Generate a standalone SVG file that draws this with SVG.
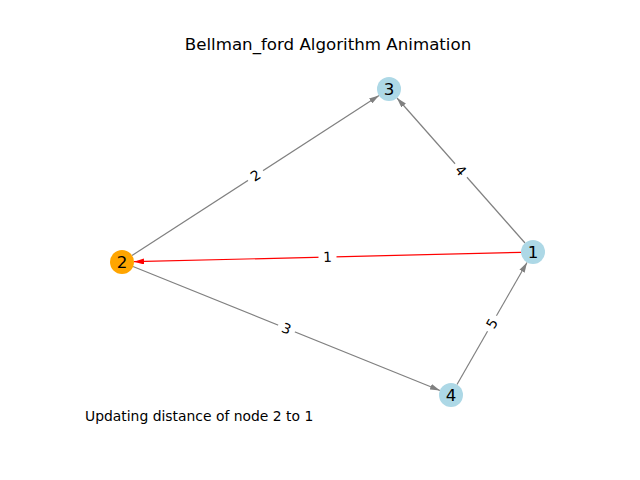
<svg xmlns="http://www.w3.org/2000/svg" width="640" height="480" viewBox="0 0 640 480">
  <defs>
    <marker id="arrow-gray" viewBox="0 0 10 6" refX="10" refY="3" markerWidth="10" markerHeight="6" markerUnits="userSpaceOnUse" orient="auto">
      <path d="M0,0 L10,3 L0,6 Z" fill="#808080"/>
    </marker>
    <marker id="arrow-red" viewBox="0 0 10 6" refX="10" refY="3" markerWidth="10" markerHeight="6" markerUnits="userSpaceOnUse" orient="auto">
      <path d="M0,0 L10,3 L0,6 Z" fill="#ff0000"/>
    </marker>
  </defs>
  <style>
    text { font-family: "DejaVu Sans", sans-serif; fill: #000; }
    .edge { stroke: #808080; stroke-width: 1.2; fill: none; marker-end: url(#arrow-gray); }
    .edge.active { stroke: #ff0000; marker-end: url(#arrow-red); }
    .node circle { fill: #add8e6; }
    .node.current circle { fill: #ffa500; }
    .node text { font-size: 16.67px; text-anchor: middle; dominant-baseline: central; }
    .elabel rect { fill: #ffffff; }
    .elabel text { font-size: 13.9px; text-anchor: middle; dominant-baseline: central; }
    .title { font-size: 16.67px; text-anchor: middle; }
    .status { font-size: 13.9px; }
  </style>
  <rect width="640" height="480" fill="#ffffff"/>
  <text class="title" x="328" y="50">Bellman_ford Algorithm Animation</text>

  <g id="edges">
    <!-- 2 -> 3 -->
    <line class="edge" x1="132" y1="255.5" x2="379" y2="95.5"/>
    <!-- 1 -> 3 -->
    <line class="edge" x1="525" y1="243" x2="397" y2="98"/>
    <!-- 1 -> 2 (active) -->
    <line class="edge active" x1="521" y1="252.3" x2="134" y2="261.7"/>
    <!-- 2 -> 4 -->
    <line class="edge" x1="133" y1="266.5" x2="440" y2="390.5"/>
    <!-- 4 -> 1 -->
    <line class="edge" x1="457" y1="384.5" x2="527" y2="262.5"/>

    <g class="elabel" transform="translate(255.5,175.5) rotate(-33)">
      <rect x="-9" y="-9" width="18" height="18"/><text x="0" y="0">2</text>
    </g>
    <g class="elabel" transform="translate(461,170.5) rotate(48.5)">
      <rect x="-9" y="-9" width="18" height="18"/><text x="0" y="0">4</text>
    </g>
    <g class="elabel" transform="translate(327.5,257) rotate(-1.4)">
      <rect x="-9" y="-9" width="18" height="18"/><text x="0" y="0">1</text>
    </g>
    <g class="elabel" transform="translate(286.5,328.5) rotate(22)">
      <rect x="-9" y="-9" width="18" height="18"/><text x="0" y="0">3</text>
    </g>
    <g class="elabel" transform="translate(492,323.5) rotate(-60)">
      <rect x="-9" y="-9" width="18" height="18"/><text x="0" y="0">5</text>
    </g>
  </g>

  <g id="node-3" class="node"><circle cx="389" cy="89" r="12"/><text x="389" y="89">3</text></g>
  <g id="node-2" class="node current"><circle cx="122" cy="262" r="12"/><text x="122" y="262">2</text></g>
  <g id="node-1" class="node"><circle cx="533" cy="252" r="12"/><text x="533" y="252">1</text></g>
  <g id="node-4" class="node"><circle cx="451" cy="395" r="12"/><text x="451" y="395">4</text></g>

  <text class="status" x="85" y="421">Updating distance of node 2 to 1</text>
</svg>
